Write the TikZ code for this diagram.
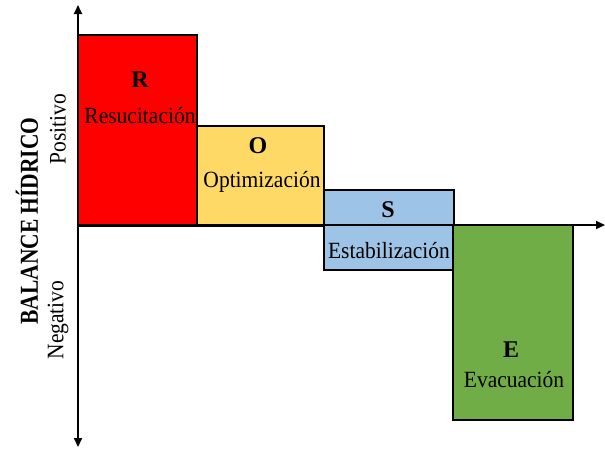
\documentclass[tikz,border=0pt]{standalone}
\usepackage{fontspec}
\setmainfont{Liberation Serif}
\usetikzlibrary{arrows.meta}
\definecolor{cR}{HTML}{FF0000}
\definecolor{cO}{HTML}{FFD966}
\definecolor{cS}{HTML}{9DC3E6}
\definecolor{cE}{HTML}{70AD47}
\tikzset{
  phase/.style={draw=black, line width=1.3pt, anchor=north west, inner sep=0pt, outer sep=0pt},
  lett/.style={font=\fontsize{24}{26}\selectfont\bfseries, inner sep=0pt},
  lbl/.style={font=\fontsize{21.5}{24}\selectfont, inner sep=0pt, yscale=1.08},
  side/.style={font=\fontsize{21.5}{24}\selectfont\bfseries, inner sep=0pt, rotate=90, yscale=1.2},
  sidel/.style={font=\fontsize{21.5}{24}\selectfont, inner sep=0pt, rotate=90, yscale=1.1},
  axis/.style={line width=1.8pt, -{Triangle[length=9pt,width=8pt]}},
  axisb/.style={line width=1.8pt, {Triangle[length=9pt,width=8pt]}-{Triangle[length=9pt,width=8pt]}},
}
\begin{document}
\begin{tikzpicture}[x=1pt,y=-1pt]
\useasboundingbox (0,0) rectangle (605,450);
% boxes
\node[phase, fill=cR, minimum width=119pt, minimum height=191pt] (r) at (78,35) {};
\node[phase, fill=cO, minimum width=127pt, minimum height=100pt] (o) at (197,126) {};
\node[phase, fill=cS, minimum width=130pt, minimum height=80pt] (s) at (324,190) {};
\node[phase, fill=cE, minimum width=120pt, minimum height=195pt] (e) at (453,225) {};
% texts
\node[lett] (rt) at (140,80) {R};
\node[lbl] (rl) at (140,116) {Resucitación};
\node[lett] (ot) at (258,146) {O};
\node[lbl] (ol) at (262,182) {Optimización};
\node[lett] (st) at (388,210) {S};
\node[lbl] (sl) at (389,251) {Estabilización};
\node[lett] (et) at (511,350) {E};
\node[lbl] (el) at (514,380) {Evacuación};
% axes
\coordinate (org) at (78,225);
\coordinate (top) at (78,5);
\coordinate (bot) at (78,447);
\coordinate (xend) at (605,225);
\draw[axisb] (bot) -- (top);
\draw[axis] (org) -- (xend);
% side labels
\node[side] (bal) at (27,221) {BALANCE HÍDRICO};
\node[sidel] (pos) at (58,129) {Positivo};
\node[sidel] (neg) at (58,320) {Negativo};
\end{tikzpicture}
\end{document}
